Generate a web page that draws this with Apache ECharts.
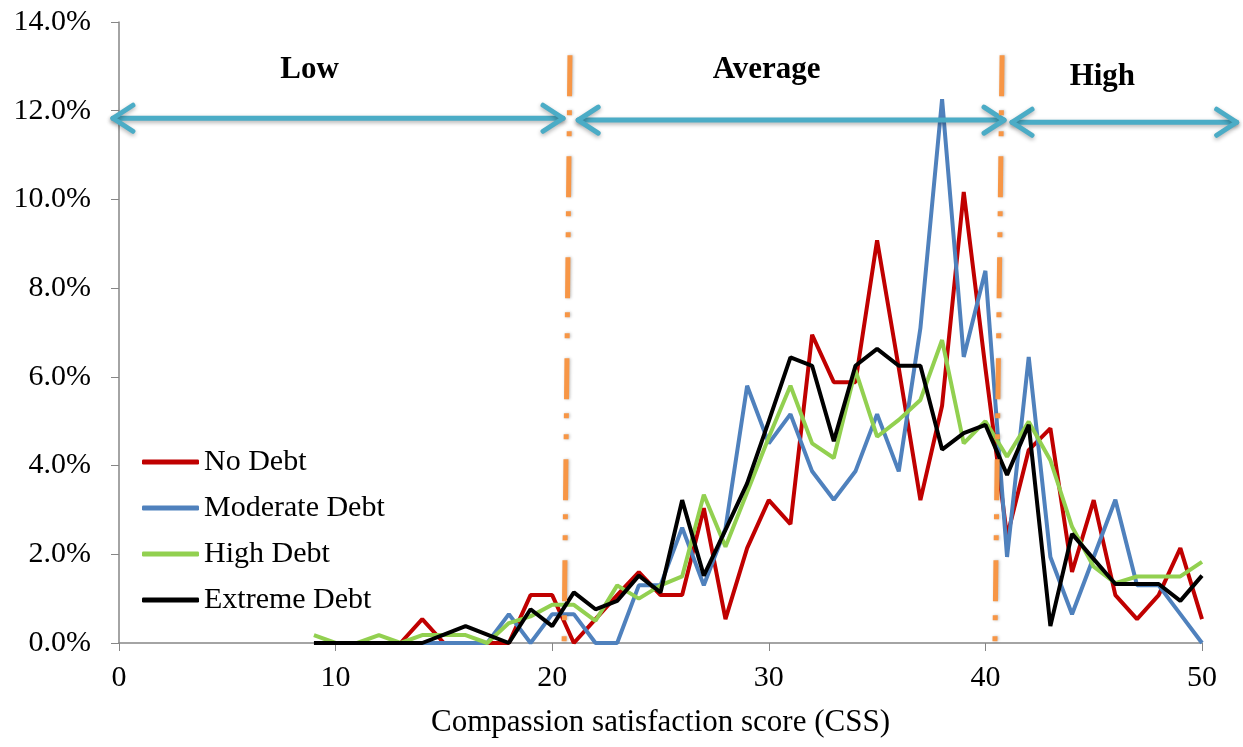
<!DOCTYPE html>
<html>
<head>
<meta charset="utf-8">
<title>Compassion satisfaction score</title>
<script src="https://cdn.jsdelivr.net/npm/echarts@6/dist/echarts.min.js"></script>
<style>
  html, body { margin: 0; padding: 0; background: #fff; }
  #cssChart { width: 1243px; height: 747px; }
</style>
</head>
<body>
<div id="cssChart"></div>
<script>
// CSS score on x, share of respondents (%) on y
var scores = [9, 10, 11, 12, 13, 14, 15, 16, 17, 18, 19, 20, 21, 22, 23, 24, 25, 26, 27, 28, 29,
  30, 31, 32, 33, 34, 35, 36, 37, 38, 39, 40, 41, 42, 43, 44, 45, 46, 47, 48, 49, 50];
var noDebt = [null, 0, 0, 0, 0, 0.54, 0, 0, 0, 0, 1.08, 1.08, 0, 0.54, 1.08, 1.6, 1.08, 1.08, 3.04, 0.54, 2.14,
  3.22, 2.68, 6.95, 5.88, 5.88, 9.08, 6.2, 3.22, 5.35, 10.17, 6.2, 2.4, 4.35, 4.84, 1.6, 3.22, 1.08, 0.54, 1.08, 2.14, 0.54];
var moderateDebt = [null, 0, 0, 0, 0, 0, 0, 0, 0, 0.65, 0, 0.65, 0.65, 0, 0, 1.3, 1.3, 2.6, 1.3, 2.58, 5.8,
  4.5, 5.16, 3.87, 3.23, 3.87, 5.16, 3.87, 7.1, 12.26, 6.45, 8.39, 1.94, 6.45, 1.94, 0.65, 1.94, 3.23, 1.3, 1.3, 0.65, 0];
var highDebt = [0.18, 0, 0, 0.18, 0, 0.18, 0.18, 0.18, 0, 0.45, 0.6, 0.86, 0.86, 0.5, 1.3, 1.0, 1.3, 1.5, 3.34, 2.17, 3.4,
  4.64, 5.8, 4.5, 4.17, 6.15, 4.65, 5.03, 5.48, 6.83, 4.5, 5.0, 4.2, 4.99, 4.12, 2.62, 1.72, 1.35, 1.5, 1.5, 1.5, 1.83];
var extremeDebt = [0, 0, 0, 0, 0, 0, 0.19, 0.38, 0.19, 0, 0.76, 0.38, 1.14, 0.76, 0.95, 1.52, 1.14, 3.22, 1.52, 2.55, 3.6,
  5.0, 6.44, 6.25, 4.55, 6.25, 6.63, 6.25, 6.25, 4.36, 4.73, 4.92, 3.79, 4.92, 0.38, 2.46, 1.89, 1.33, 1.33, 1.33, 0.95, 1.52];

var seriesNames = ["No Debt", "Moderate Debt", "High Debt", "Extreme Debt"];
var seriesColors = ["#c00000", "#4f81bd", "#92d050", "#000000"];
var seriesValues = [noDebt, moderateDebt, highDebt, extremeDebt];

// band annotations (in axis units)
var bandNames = ["Low", "Average", "High"];
var bandLabelAt = [[8.8, 12.92], [29.9, 12.92], [45.4, 12.76]];
var bandArrows = [[[-0.28, 11.83], [20.5, 11.83]], [[21.2, 11.79], [40.86, 11.79]], [[41.23, 11.74], [51.6, 11.74]]];
var cutLines = [[[20.82, 13.25], [20.55, 0]], [[40.77, 13.25], [40.44, 0]]];

var font = "Liberation Serif";

function pairs(vals) {
  var out = [];
  for (var i = 0; i < scores.length; i++) {
    if (vals[i] != null) out.push([scores[i], vals[i]]);
  }
  return out;
}

var chart = echarts.init(document.getElementById("cssChart"));

var series = [];
for (var s = 0; s < seriesNames.length; s++) {
  series.push({
    name: seriesNames[s],
    type: "line",
    data: pairs(seriesValues[s]),
    showSymbol: false,
    symbol: "none",
    color: seriesColors[s],
    lineStyle: { width: 4, color: seriesColors[s] },
    z: 2 + s
  });
}

chart.setOption({
  animation: false,
  backgroundColor: "#fff",
  grid: { left: 119, right: 41, top: 22, bottom: 104 },
  legend: {
    data: seriesNames,
    orient: "vertical",
    left: 137,
    top: 442,
    icon: "roundRect",
    itemWidth: 57,
    itemHeight: 5,
    itemGap: 16,
    textStyle: { fontFamily: font, fontSize: 30, color: "#000" }
  },
  xAxis: {
    type: "value",
    min: 0,
    max: 50,
    interval: 10,
    name: "Compassion satisfaction score (CSS)",
    nameLocation: "middle",
    nameGap: 64,
    nameTextStyle: { fontFamily: font, fontSize: 31, color: "#000" },
    axisLine: { lineStyle: { color: "#868686", width: 1.5 } },
    axisTick: { show: true, length: 8, lineStyle: { color: "#868686" } },
    axisLabel: { fontFamily: font, fontSize: 30, color: "#000", margin: 20 },
    splitLine: { show: false }
  },
  yAxis: {
    type: "value",
    min: 0,
    max: 14,
    interval: 2,
    axisLine: { show: true, lineStyle: { color: "#868686", width: 1.5 } },
    axisTick: { show: true, length: 8, lineStyle: { color: "#868686" } },
    axisLabel: {
      fontFamily: font, fontSize: 30, color: "#000", margin: 28,
      formatter: function (v) { return v.toFixed(1) + "%"; }
    },
    splitLine: { show: false }
  },
  series: series
});

// annotations drawn from axis units
function px(p) { return chart.convertToPixel({ gridIndex: 0 }, p); }

function drawAnnotations() {
  var g = [];
  var arrowStyle = {
    stroke: "#4bacc6", lineWidth: 5, lineCap: "round", lineJoin: "round",
    shadowBlur: 4, shadowOffsetY: 2, shadowColor: "rgba(0,0,0,0.3)"
  };
  bandArrows.forEach(function (a) {
    var p1 = px(a[0]), p2 = px(a[1]);
    g.push({ type: "line", z: 50, shape: { x1: p1[0], y1: p1[1], x2: p2[0], y2: p2[1] }, style: arrowStyle });
    [[p1, p2], [p2, p1]].forEach(function (pp) {
      var tip = pp[0], other = pp[1];
      var dx = tip[0] - other[0], dy = tip[1] - other[1];
      var len = Math.sqrt(dx * dx + dy * dy);
      dx /= len; dy /= len;
      var L = 20, W = 13;
      g.push({
        type: "polyline", z: 50,
        shape: { points: [
          [tip[0] - dx * L - dy * W, tip[1] - dy * L + dx * W],
          [tip[0], tip[1]],
          [tip[0] - dx * L + dy * W, tip[1] - dy * L - dx * W]
        ] },
        style: arrowStyle
      });
    });
  });
  cutLines.forEach(function (c) {
    var p1 = px(c[0]), p2 = px(c[1]);
    g.push({
      type: "line", z: 60,
      shape: { x1: p1[0], y1: p1[1], x2: p2[0], y2: p2[1] },
      style: { stroke: "#f79646", lineWidth: 5, lineDash: [41, 14, 5, 16, 5, 20],
        shadowBlur: 3, shadowOffsetX: 1, shadowColor: "rgba(0,0,0,0.25)" }
    });
  });
  bandNames.forEach(function (name, i) {
    var p = px(bandLabelAt[i]);
    g.push({
      type: "text", z: 60, x: p[0], y: p[1],
      style: { text: name, font: "bold 31px '" + font + "'", fill: "#000", align: "center", verticalAlign: "middle" }
    });
  });
  chart.setOption({ graphic: g });
}
drawAnnotations();
</script>
</body>
</html>
